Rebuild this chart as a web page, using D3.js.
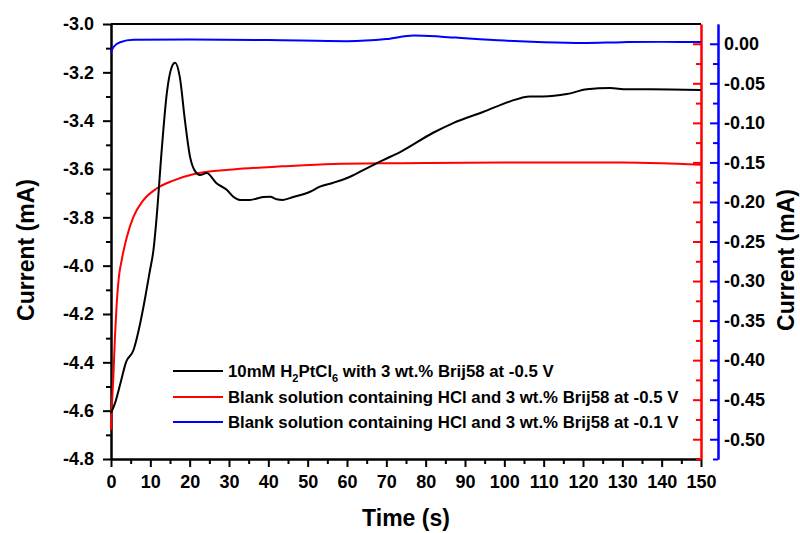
<!DOCTYPE html>
<html>
<head>
<meta charset="utf-8">
<script src="https://cdn.jsdelivr.net/npm/d3@7"></script>
<style>
  body { margin: 0; background: #fff; }
  text { font-family: Arial, "Liberation Sans", sans-serif; font-weight: bold; }
</style>
</head>
<body>
<svg id="chart" width="800" height="533"></svg>
<script>
// black: 10mM H2PtCl6 at -0.5 V, left axis (mA)
const blackT = [0, 1, 2.5, 3.8, 5.7, 7.4, 8.6, 9.9, 10.8, 11.6, 12.9, 14.2, 15.4, 16.3, 17.5, 18.8, 20.1, 21.4, 22.6, 24.3, 26.9, 29.5, 31.1, 32.8, 35.3, 38.7, 40.5, 42.1, 43.7, 46.3, 50.6, 53.1, 56.5, 60.8, 65, 69.2, 73.5, 81.9, 87, 94.6, 101.5, 106.5, 109.9, 115.9, 121, 126.9, 131.1, 137, 150];
const blackI = [-4.61, -4.57, -4.48, -4.40, -4.35, -4.24, -4.14, -4.02, -3.935, -3.80, -3.52, -3.285, -3.18, -3.16, -3.22, -3.40, -3.55, -3.61, -3.625, -3.617, -3.66, -3.687, -3.715, -3.728, -3.728, -3.716, -3.715, -3.725, -3.728, -3.716, -3.694, -3.673, -3.657, -3.632, -3.597, -3.563, -3.53, -3.45, -3.41, -3.364, -3.32, -3.30, -3.30, -3.29, -3.27, -3.265, -3.27, -3.27, -3.273];

// red: blank at -0.5 V, right axis (mA)
const redT = [0, 0.3, 0.6, 1.0, 1.4, 2.0, 2.7, 4, 5.7, 8.2, 11.6, 15.8, 20.9, 31, 43.7, 56.5, 73.5, 100, 130, 140, 150];
const redI = [-0.488, -0.45, -0.421, -0.371, -0.333, -0.295, -0.274, -0.245, -0.219, -0.198, -0.183, -0.173, -0.165, -0.159, -0.155, -0.152, -0.151, -0.150, -0.150, -0.151, -0.153];

// blue: blank at -0.1 V, right axis (mA)
const blueT = [0, 0.6, 2.3, 5.7, 20, 40, 60, 70, 77, 84, 90, 100, 110, 120, 130, 140, 150];
const blueI = [-0.0106, -0.0043, 0.002, 0.005, 0.0053, 0.0048, 0.0033, 0.006, 0.0105, 0.009, 0.007, 0.004, 0.002, 0.001, 0.002, 0.0024, 0.0024];

const xTicks = d3.range(0, 151, 10);
const leftTicks = [-4.8, -4.6, -4.4, -4.2, -4.0, -3.8, -3.6, -3.4, -3.2, -3.0];
const rightTicks = [0, -0.05, -0.10, -0.15, -0.20, -0.25, -0.30, -0.35, -0.40, -0.45, -0.50];

const legendLabels = [
  ["10mM H", "2", "PtCl", "6", " with 3 wt.% Brij58 at -0.5 V"],
  ["Blank solution containing HCl and 3 wt.% Brij58 at -0.5 V"],
  ["Blank solution containing HCl and 3 wt.% Brij58 at -0.1 V"]
];
const colors = ["#000000", "#ff0000", "#0000ff"];

const svg = d3.select("#chart");
const [L, R, T, B] = [111, 701, 24, 459];

const x = d3.scaleLinear().domain([0, 150]).range([L, R]);
const yL = d3.scaleLinear().domain([-4.8, -3.0]).range([B, T]);
const yR = d3.scaleLinear().domain([-0.525, 0.025]).range([B, T]);

function styleAxis(g, color) {
  g.selectAll("path.domain").attr("stroke", color).attr("stroke-width", 2);
  g.selectAll(".tick line").attr("stroke", color).attr("stroke-width", 2);
  g.selectAll(".tick text").attr("fill", "#000").attr("font-size", 18)
    .attr("font-family", "Arial, 'Liberation Sans', sans-serif");
}

// bottom axis
const gx = svg.append("g").attr("transform", `translate(0,${B})`);
gx.call(d3.axisBottom(x).tickValues(d3.range(5, 150, 10)).tickSize(5).tickFormat("").tickSizeOuter(0));
gx.append("g").call(d3.axisBottom(x).tickValues(xTicks).tickSize(8).tickPadding(8).tickFormat(d => d).tickSizeOuter(0));
styleAxis(gx, "#000");

// left axis
const gl = svg.append("g").attr("transform", `translate(${L},0)`);
gl.call(d3.axisLeft(yL).tickValues(d3.range(-4.7, -3.0, 0.2)).tickSize(5).tickFormat("").tickSizeOuter(0));
gl.append("g").call(d3.axisLeft(yL).tickValues(leftTicks).tickSize(8).tickPadding(9).tickFormat(d => d.toFixed(1)).tickSizeOuter(0));
styleAxis(gl, "#000");

// top border
svg.append("line").attr("x1", L).attr("x2", R).attr("y1", T).attr("y2", T)
  .attr("stroke", "#000").attr("stroke-width", 2);

// red right axis (ticks inward, no labels)
const minorR = d3.range(-0.525, 0.02, 0.05);
const gr = svg.append("g").attr("transform", `translate(${R},0)`);
gr.call(d3.axisLeft(yR).tickValues(minorR).tickSize(5).tickFormat("").tickSizeOuter(0));
gr.append("g").call(d3.axisLeft(yR).tickValues(rightTicks).tickSize(8).tickFormat("").tickSizeOuter(0));
styleAxis(gr, "#ff0000");

// blue right axis
const gb = svg.append("g").attr("transform", `translate(718,0)`);
gb.call(d3.axisLeft(yR).tickValues(minorR).tickSize(5).tickFormat("").tickSizeOuter(0));
gb.append("g").call(d3.axisLeft(yR).tickValues(rightTicks).tickSize(8).tickFormat("").tickSizeOuter(0));
styleAxis(gb, "#0000ff");
gb.selectAll("text.rlab").data(rightTicks).enter().append("text").attr("class", "rlab")
  .attr("x", 6).attr("y", d => yR(d)).attr("dy", "0.35em")
  .attr("fill", "#000").attr("text-anchor", "start")
  .attr("font-family", "Arial, 'Liberation Sans', sans-serif")
  .attr("font-size", 18).text(d => d.toFixed(2));

// series
const line = d3.line().curve(d3.curveMonotoneX);
const plot = svg.append("g").attr("fill", "none").attr("stroke-width", 2);
plot.append("path").attr("d", line(redT.map((t, i) => [x(t), yR(redI[i])])))
  .attr("stroke", colors[1]);
plot.append("path").attr("d", line(blueT.map((t, i) => [x(t), yR(blueI[i])])))
  .attr("stroke", colors[2]);
plot.append("path").attr("d", line(blackT.map((t, i) => [x(t), yL(blackI[i])])))
  .attr("stroke", colors[0]);

// legend
const legY = [371, 397, 422];
legendLabels.forEach((parts, i) => {
  svg.append("line").attr("x1", 173).attr("x2", 223).attr("y1", legY[i]).attr("y2", legY[i])
    .attr("stroke", colors[i]).attr("stroke-width", 2);
  const t = svg.append("text").attr("x", 228).attr("y", legY[i]).attr("dy", "0.35em").attr("font-size", 16.8);
  parts.forEach((p, j) => {
    const sub = parts.length > 1 && (j === 1 || j === 3);
    const ts = t.append("tspan").text(p);
    if (sub) ts.attr("font-size", 11).attr("dy", 5);
    else if (j > 0) ts.attr("dy", -5);
  });
});

// titles
svg.append("text").attr("x", 406).attr("y", 526).attr("text-anchor", "middle")
  .attr("font-size", 23).text("Time (s)");
svg.append("text").attr("transform", "translate(34,250) rotate(-90)").attr("text-anchor", "middle")
  .attr("font-size", 23).text("Current (mA)");
svg.append("text").attr("transform", "translate(794,260) rotate(-90)").attr("text-anchor", "middle")
  .attr("font-size", 23).text("Current (mA)");
</script>
</body>
</html>
